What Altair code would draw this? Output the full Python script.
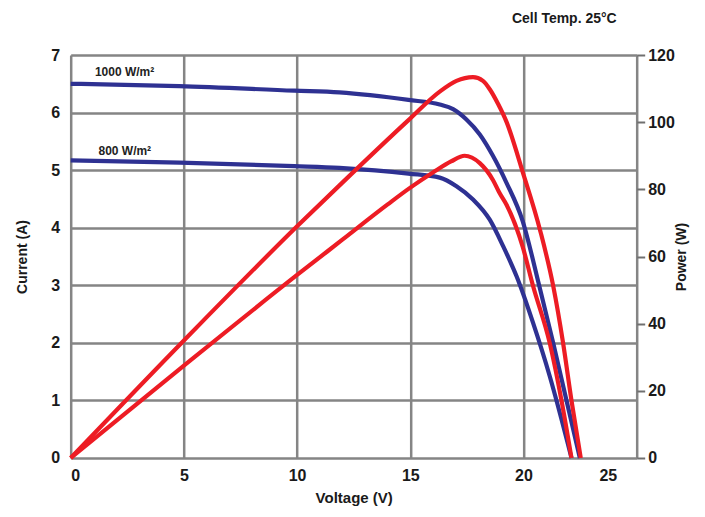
import altair as alt
import pandas as pd

# I-V curve, 1000 W/m2
v_i1000 = [0, 4.79, 9.88, 11.87, 14.92, 16.3, 16.89, 17.48, 18.07, 18.65, 19.25, 19.96, 20.69, 21.31, 21.9, 22.49]
i_1000 = [6.50, 6.46, 6.38, 6.35, 6.22, 6.14, 6.06, 5.88, 5.62, 5.25, 4.78, 4.12, 3.0, 2.0, 1.0, 0]
# I-V curve, 800 W/m2
v_i800 = [0, 4.82, 9.88, 11.87, 14.92, 16.3, 17.04, 17.77, 18.51, 19.1, 19.69, 20.42, 21.16, 22.12]
i_800 = [5.17, 5.13, 5.07, 5.04, 4.94, 4.87, 4.72, 4.49, 4.14, 3.68, 3.16, 2.35, 1.42, 0]
# P-V curve, 1000 W/m2
v_p1000 = [0, 5, 10, 12, 14.92, 16.3, 17.04, 17.77, 18.21, 18.51, 18.88, 19.25, 19.96, 20.75, 21.31, 21.75, 22.12, 22.53]
p_1000 = [0, 35.0, 69.0, 82.0, 100.6, 109.1, 112.3, 113.4, 112.3, 109.8, 105.4, 100.1, 85.3, 67.4, 51.3, 34.2, 17.1, 0]
# P-V curve, 800 W/m2
v_p800 = [0, 5, 10, 12, 14, 15, 16, 16.8, 17.4, 18.07, 18.65, 18.95, 19.25, 19.96, 20.42, 21.16, 21.68, 22.12]
p_800 = [0, 27.5, 54.5, 65.0, 75.5, 80.5, 85.0, 88.3, 90.0, 87.8, 82.8, 78.8, 75.4, 63.0, 51.3, 34.2, 17.1, 0]

label_text = ["1000 W/m²", "800 W/m²"]
label_v = [2.38, 2.39]
label_i = [6.70, 5.34]

x_ticks = [0, 5, 10, 15, 20, 25]
i_ticks = [0, 1, 2, 3, 4, 5, 6, 7]
p_ticks = [0, 20, 40, 60, 80, 100, 120]

cur = pd.DataFrame({
    "V": v_i1000 + v_i800,
    "I": i_1000 + i_800,
    "series": ["1000"] * len(v_i1000) + ["800"] * len(v_i800),
})
pw = pd.DataFrame({
    "V": v_p1000 + v_p800,
    "P": p_1000 + p_800,
    "series": ["1000"] * len(v_p1000) + ["800"] * len(v_p800),
})
labels = pd.DataFrame({"V": label_v, "I": label_i, "text": label_text})

FONT = "Liberation Sans"
GRID = "#858585"
INK = "#1a1a1a"

xscale = alt.Scale(domain=[0, 25], nice=False, zero=False)
xaxis = alt.Axis(values=x_ticks, format="d", title="Voltage (V)", grid=True, gridColor=GRID, gridWidth=2.5,
                 ticks=False, domain=False, labelFontSize=16, labelFontWeight="bold",
                 labelColor=INK, labelPadding=10, titleFontSize=15, titleFontWeight="bold",
                 titleColor=INK, titlePadding=7, labelFont=FONT, titleFont=FONT,
                 labelOffset={"condition": {"test": "datum.value == 25", "value": -20}, "value": 0})

iscale = alt.Scale(domain=[0, 7], nice=False)
iaxis = alt.Axis(values=i_ticks, format="d", title="Current (A)", grid=True, gridColor=GRID, gridWidth=2.5,
                 ticks=False, domain=False, orient="left", labelFontSize=16, labelFontWeight="bold",
                 labelColor=INK, labelPadding=11, titleFontSize=14, titleFontWeight="bold",
                 titleColor=INK, titlePadding=21, labelFont=FONT, titleFont=FONT)

pscale = alt.Scale(domain=[0, 120], nice=False)
paxis = alt.Axis(values=p_ticks, format="d", title="Power (W)", grid=False, orient="right", ticks=True,
                 tickSize=8, tickWidth=2, tickColor="#707070", domain=False,
                 labelFontSize=16, labelFontWeight="bold", labelColor=INK, labelPadding=3,
                 titleFontSize=14, titleFontWeight="bold", titleColor=INK, titlePadding=14,
                 titleAngle=270, labelFont=FONT, titleFont=FONT)

cur_lines = alt.Chart(cur).mark_line(color="#2e3192", strokeWidth=4.2, interpolate="monotone").encode(
    x=alt.X("V:Q", scale=xscale, axis=xaxis),
    y=alt.Y("I:Q", scale=iscale, axis=iaxis),
    detail="series:N",
)
lab = alt.Chart(labels).mark_text(font=FONT, fontSize=12, fontWeight="bold", color="#222222").encode(
    x=alt.X("V:Q", scale=xscale),
    y=alt.Y("I:Q", scale=iscale),
    text="text:N",
)
pw_lines = alt.Chart(pw).mark_line(color="#ed1c24", strokeWidth=4.2, interpolate="monotone").encode(
    x=alt.X("V:Q", scale=xscale),
    y=alt.Y("P:Q", scale=pscale, axis=paxis),
    detail="series:N",
)

left = alt.layer(cur_lines, lab)
chart = alt.layer(left, pw_lines).resolve_scale(y="independent").properties(
    width=566,
    height=403,
    autosize=alt.AutoSizeParams(type="none"),
    padding={"left": 62.7, "top": 47, "right": 58, "bottom": 51},
    title=alt.TitleParams("Cell Temp. 25°C", anchor="end", frame="group", font=FONT, fontSize=14,
                          fontWeight="bold", color=INK, offset=21, dx=-20),
).configure_view(fill="#dce5f0", stroke="#858585", strokeWidth=3).configure(background="white")

chart.save("out.html", embed_options={"renderer": "svg", "actions": False})
